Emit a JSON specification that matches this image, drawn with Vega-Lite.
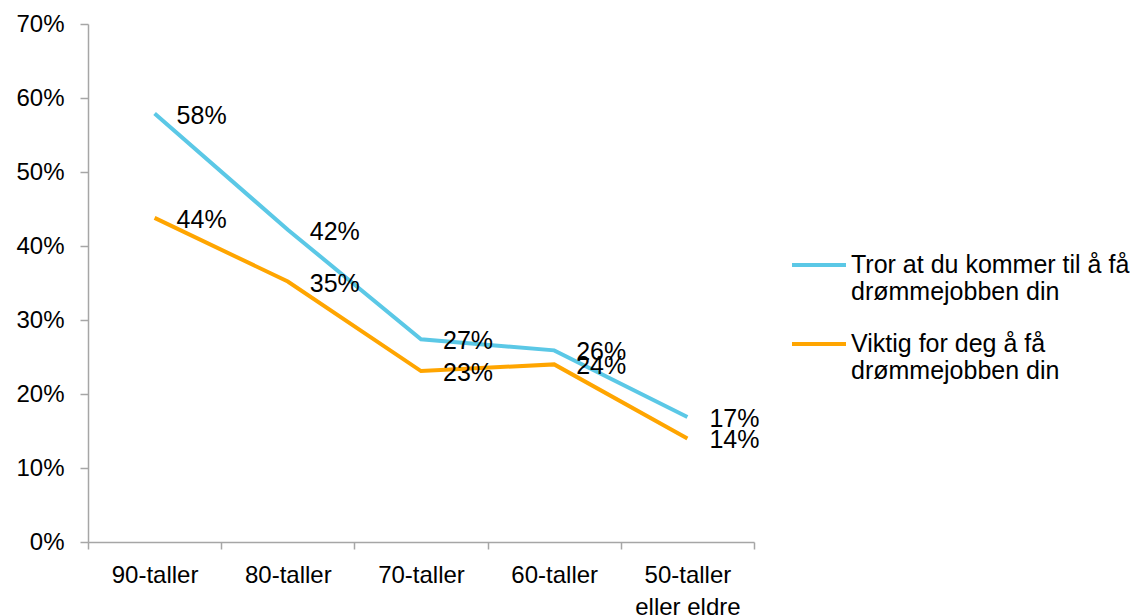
{
  "$schema": "https://vega.github.io/schema/vega-lite/v6.json",
  "width": 666,
  "height": 518,
  "autosize": {"type": "none"},
  "padding": {"left": 88, "top": 24, "right": 392, "bottom": 73},
  "background": "white",
  "config": {
    "view": {"stroke": null},
    "font": "Liberation Sans",
    "axis": {"domainColor": "#A6A6A6", "tickColor": "#A6A6A6", "domainWidth": 1.5, "tickWidth": 1.5, "grid": false, "labelColor": "black", "labelFont": "Liberation Sans", "labelFontSize": 24, "title": null}
  },
  "data": {
    "values": [
      {"kategori": "90-taller", "serie": "Tror at du kommer til å få drømmejobben din", "andel": 0.579},
      {"kategori": "80-taller", "serie": "Tror at du kommer til å få drømmejobben din", "andel": 0.422},
      {"kategori": "70-taller", "serie": "Tror at du kommer til å få drømmejobben din", "andel": 0.274},
      {"kategori": "60-taller", "serie": "Tror at du kommer til å få drømmejobben din", "andel": 0.259},
      {"kategori": "50-taller eller eldre", "serie": "Tror at du kommer til å få drømmejobben din", "andel": 0.169},
      {"kategori": "90-taller", "serie": "Viktig for deg å få drømmejobben din", "andel": 0.438},
      {"kategori": "80-taller", "serie": "Viktig for deg å få drømmejobben din", "andel": 0.352},
      {"kategori": "70-taller", "serie": "Viktig for deg å få drømmejobben din", "andel": 0.231},
      {"kategori": "60-taller", "serie": "Viktig for deg å få drømmejobben din", "andel": 0.240},
      {"kategori": "50-taller eller eldre", "serie": "Viktig for deg å få drømmejobben din", "andel": 0.140}
    ]
  },
  "encoding": {
    "x": {
      "field": "kategori",
      "type": "nominal",
      "sort": ["90-taller", "80-taller", "70-taller", "60-taller", "50-taller eller eldre"],
      "scale": {"paddingInner": 0, "paddingOuter": 0},
      "axis": {
        "labelAngle": 0,
        "tickBand": "extent",
        "tickSize": 7,
        "labelPadding": 14,
        "labelLineHeight": 32,
        "labelExpr": "datum.label == '50-taller eller eldre' ? ['50-taller', 'eller eldre'] : datum.label"
      }
    },
    "y": {
      "field": "andel",
      "type": "quantitative",
      "scale": {"domain": [0, 0.7]},
      "axis": {"format": ".0%", "values": [0, 0.1, 0.2, 0.3, 0.4, 0.5, 0.6, 0.7], "tickSize": 8, "labelPadding": 16}
    }
  },
  "layer": [
    {
      "mark": {"type": "line", "strokeWidth": 4},
      "encoding": {
        "color": {
          "field": "serie",
          "type": "nominal",
          "scale": {"domain": ["Tror at du kommer til å få drømmejobben din", "Viktig for deg å få drømmejobben din"], "range": ["#5BC8E6", "#FFA500"]},
          "legend": {
            "title": null,
            "orient": "none",
            "legendX": 702,
            "legendY": 212,
            "padding": 0,
            "symbolType": "stroke",
            "symbolSize": 2916,
            "symbolStrokeWidth": 4,
            "labelFontSize": 25,
            "labelFont": "Liberation Sans",
            "labelColor": "black",
            "labelOffset": 3,
            "labelLimit": 400,
            "rowPadding": 10,
            "labelExpr": "datum.label == 'Tror at du kommer til å få drømmejobben din' ? ['Tror at du kommer til å få', 'drømmejobben din'] : ['Viktig for deg å få', 'drømmejobben din']"
          }
        }
      }
    },
    {
      "mark": {"type": "text", "align": "left", "baseline": "middle", "dx": 22, "dy": 2, "fontSize": 25, "font": "Liberation Sans", "color": "black"},
      "encoding": {
        "text": {"field": "andel", "type": "quantitative", "format": ".0%"},
        "detail": {"field": "serie"}
      }
    }
  ]
}
